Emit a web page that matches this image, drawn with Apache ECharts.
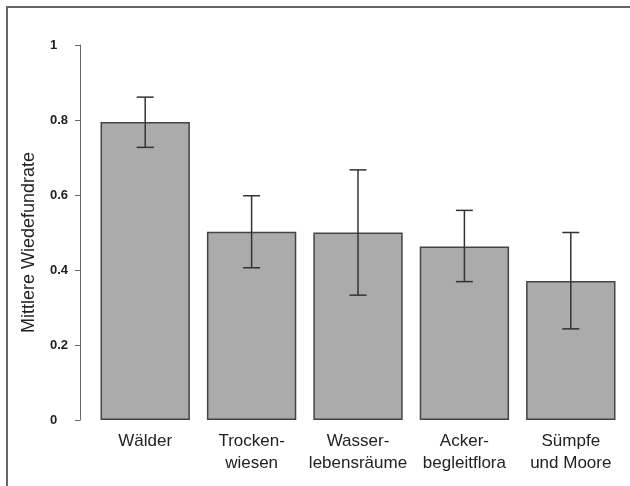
<!DOCTYPE html>
<html>
<head>
<meta charset="utf-8">
<script src="https://cdn.jsdelivr.net/npm/echarts@6/dist/echarts.min.js"></script>
<style>
  html, body { margin: 0; padding: 0; background: #fff; }
  #wrap { position: relative; width: 630px; height: 486px; overflow: hidden; }
  #biao1 { width: 630px; height: 486px; }
  #rahmen { position: absolute; left: 6px; top: 6px; width: 700px; height: 600px;
    border-top: 2px solid #666; border-left: 2px solid #666; pointer-events: none; }
</style>
</head>
<body>
<div id="wrap">
  <div id="biao1"></div>
  <div id="rahmen"></div>
</div>
<script>
// Kategorien und Werte
var kategorien = ['Wälder', 'Trocken-\nwiesen', 'Wasser-\nlebensräume', 'Acker-\nbegleitflora', 'Sümpfe\nund Moore'];
var mittelwert = [0.795, 0.502, 0.500, 0.463, 0.371];
var fehlerOben = [0.861, 0.598, 0.667, 0.559, 0.500];
var fehlerUnten = [0.727, 0.406, 0.333, 0.369, 0.243];
var yTicks = [0, 0.2, 0.4, 0.6, 0.8, 1];

function loadChart01() {
  var dom = document.getElementById('biao1');
  var myChart = echarts.init(dom, null, {
    renderer: 'canvas',
    useDirtyRect: false
  });

  var fehlerDaten = kategorien.map(function (k, i) {
    return [i, fehlerUnten[i], fehlerOben[i]];
  });

  var option;

  option = {
    backgroundColor: '#fff',
    animation: false,
    grid: { left: 92, right: 6, top: 45, bottom: 66 },
    xAxis: {
      type: 'category',
      data: kategorien,
      axisLine: { show: false },
      axisTick: { show: false },
      axisLabel: {
        color: '#222',
        fontFamily: 'Liberation Sans, Arial, sans-serif',
        fontSize: 17,
        lineHeight: 22,
        margin: 10,
        interval: 0
      }
    },
    yAxis: {
      type: 'value',
      min: 0,
      max: 1,
      interval: 0.2,
      offset: 12,
      name: 'Mittlere Wiedefundrate',
      nameLocation: 'middle',
      nameGap: 42,
      nameTextStyle: {
        color: '#222',
        fontFamily: 'Liberation Sans, Arial, sans-serif',
        fontSize: 18,
        padding: [0, 20, 0, 0]
      },
      splitLine: { show: false },
      axisLine: { show: true, lineStyle: { color: '#666', width: 1 } },
      axisTick: { show: true, length: 5, lineStyle: { color: '#666' } },
      axisLabel: {
        color: '#222',
        fontWeight: 'bold',
        fontFamily: 'Liberation Sans, Arial, sans-serif',
        fontSize: 13,
        align: 'left',
        margin: 30,
        formatter: function (v) {
          return yTicks.indexOf(Math.round(v * 10) / 10) >= 0 ? String(Math.round(v * 10) / 10) : '';
        }
      }
    },
    series: [
      {
        type: 'bar',
        data: mittelwert,
        barCategoryGap: '16%',
        itemStyle: { color: '#ababab', borderColor: '#444', borderWidth: 1.5 }
      },
      {
        type: 'custom',
        data: fehlerDaten,
        encode: { x: 0, y: [1, 2] },
        z: 5,
        renderItem: function (params, api) {
          var x = api.value(0);
          var oben = api.coord([x, api.value(2)]);
          var unten = api.coord([x, api.value(1)]);
          var halb = 8.5;
          var stil = { stroke: '#333', lineWidth: 1.5 };
          return {
            type: 'group',
            children: [
              { type: 'line', shape: { x1: oben[0], y1: oben[1], x2: unten[0], y2: unten[1] }, style: stil },
              { type: 'line', shape: { x1: oben[0] - halb, y1: oben[1], x2: oben[0] + halb, y2: oben[1] }, style: stil },
              { type: 'line', shape: { x1: unten[0] - halb, y1: unten[1], x2: unten[0] + halb, y2: unten[1] }, style: stil }
            ]
          };
        }
      }
    ]
  };

  if (option && typeof option === 'object') {
    myChart.setOption(option);
  }

  window.addEventListener('resize', myChart.resize);
}
loadChart01();
</script>
</body>
</html>
